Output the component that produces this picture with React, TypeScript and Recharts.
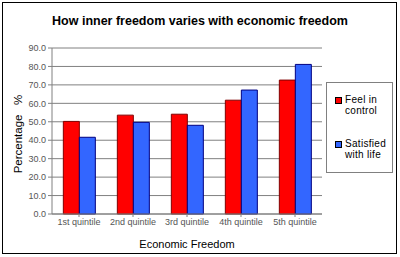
import * as React from 'react';
import {
    Bar,
    BarChart,
    CartesianGrid,
    Legend,
    XAxis,
    YAxis,
} from 'recharts';

const quintiles = ['1st quintile', '2nd quintile', '3rd quintile', '4th quintile', '5th quintile'];
const feelInControl = [50.2, 53.6, 54.1, 61.7, 72.6];
const satisfiedWithLife = [41.6, 49.7, 48.1, 67.2, 81.1];
const yTicks = [0, 10, 20, 30, 40, 50, 60, 70, 80, 90];

const series = [
    { key: 'feel', lines: ['Feel in', 'control'], fill: '#ff0000', stroke: '#800000' },
    { key: 'satisfied', lines: ['Satisfied', 'with life'], fill: '#3366ff', stroke: '#000080' },
];

const data = quintiles.map((q, i) => ({
    quintile: q,
    feel: feelInControl[i],
    satisfied: satisfiedWithLife[i],
}));

const font = 'Arial, "Liberation Sans", sans-serif';

function LegendBox() {
    return (
        <div
            style={{
                width: 67,
                height: 91,
                border: '1px solid #808080',
                boxSizing: 'border-box',
                background: '#fff',
                fontFamily: font,
                fontSize: 10,
                color: '#000',
                paddingTop: 11,
                paddingLeft: 8,
            }}
        >
            {series.map((s, idx) => (
                <div key={s.key} style={{ display: 'flex', marginTop: idx === 0 ? 0 : 22 }}>
                    <div
                        style={{
                            width: 5,
                            height: 5,
                            background: s.fill,
                            border: '1px solid #000',
                            marginTop: 3,
                            marginRight: 3,
                        }}
                    />
                    <div style={{ lineHeight: '11px', letterSpacing: 0.3 }}>
                        {s.lines.map((l) => (
                            <div key={l}>{l}</div>
                        ))}
                    </div>
                </div>
            ))}
        </div>
    );
}

export default function App() {
    return (
        <div style={{ position: 'relative', width: 400, height: 257, background: '#fff' }}>
            <style>{'body{margin:0}'}</style>
            <div
                style={{
                    position: 'absolute',
                    left: 2,
                    top: 2,
                    width: 395,
                    height: 252,
                    border: '1px solid #000',
                    boxSizing: 'border-box',
                }}
            />
            <div
                style={{
                    position: 'absolute',
                    top: 14,
                    left: 0,
                    width: 400,
                    textAlign: 'center',
                    fontFamily: font,
                    fontSize: 12.5,
                    fontWeight: 'bold',
                }}
            >
                How inner freedom varies with economic freedom
            </div>
            <div
                style={{
                    position: 'absolute',
                    left: 18 - 50,
                    top: 134 - 7,
                    width: 100,
                    height: 14,
                    lineHeight: '14px',
                    textAlign: 'center',
                    transform: 'rotate(-90deg)',
                    fontFamily: font,
                    fontSize: 11.5,
                    whiteSpace: 'pre',
                    zIndex: 2,
                }}
            >
                {'Percentage   %'}
            </div>
            <BarChart
                width={400}
                height={257}
                data={data}
                margin={{ top: 48, right: 78, bottom: 18, left: 0 }}
                barCategoryGap="21%"
                barGap={0}
                style={{ position: 'absolute', left: 0, top: 0 }}
            >
                <CartesianGrid stroke="#808080" vertical={false} />
                <XAxis
                    dataKey="quintile"
                    height={25}
                    stroke="#808080"
                    tickSize={3}
                    tick={{ fontSize: 9, fill: '#555', fontFamily: font }}
                    interval={0}
                    label={{
                        value: 'Economic Freedom',
                        position: 'insideBottom',
                        offset: -9,
                        fontSize: 11,
                        fill: '#000',
                        fontFamily: font,
                    }}
                />
                <YAxis
                    width={52}
                    domain={[0, 90]}
                    ticks={yTicks}
                    interval={0}
                    stroke="#808080"
                    tickSize={4}
                    tickFormatter={(v) => v.toFixed(1)}
                    tick={{ fontSize: 9, fill: '#555', fontFamily: font }}
                />
                <Legend
                    layout="horizontal"
                    verticalAlign="middle"
                    content={() => <LegendBox />}
                    wrapperStyle={{ position: 'absolute', left: 326, top: 82, width: 67 }}
                />
                {series.map((s) => (
                    <Bar
                        key={s.key}
                        dataKey={s.key}
                        fill={s.fill}
                        stroke={s.stroke}
                        strokeWidth={1}
                        isAnimationActive={false}
                    />
                ))}
            </BarChart>
        </div>
    );
}
